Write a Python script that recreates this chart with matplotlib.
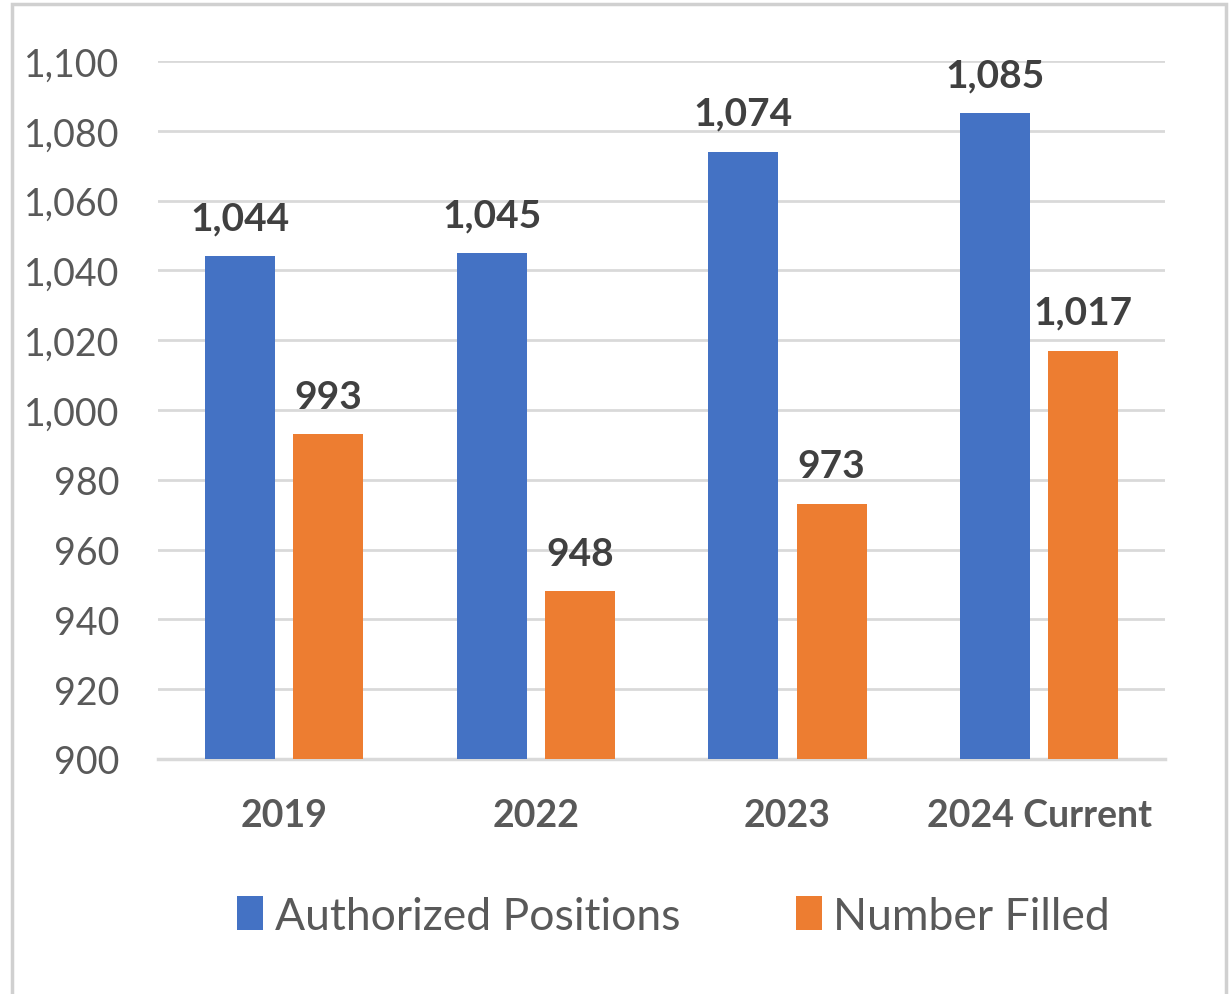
"""Authorized positions vs number filled, grouped bars."""
import numpy as np
import matplotlib
matplotlib.use("Agg")
import matplotlib.pyplot as plt
from matplotlib.patches import Rectangle
from matplotlib.ticker import FuncFormatter, MultipleLocator

categories = ["2019", "2022", "2023", "2024 Current"]
authorized = [1044, 1045, 1074, 1085]
filled = [993, 948, 973, 1017]
series_names = ["Authorized Positions", "Number Filled"]

BLUE = "#4472C4"
ORANGE = "#ED7D31"
GRID = "#D9D9D9"
TICK_GRAY = "#595959"

plt.rcParams["font.family"] = ["Lato", "DejaVu Sans"]

fig = plt.figure(figsize=(12.29, 9.95), dpi=100)
ax = fig.add_axes([0.1286, 0.2362, 0.8194, 0.7015])

x = np.arange(len(categories))
width = 0.278
offset = 0.175

bars_a = ax.bar(x - offset, np.array(authorized) - 900, width, bottom=900,
                color=BLUE, label=series_names[0], zorder=3)
bars_f = ax.bar(x + offset, np.array(filled) - 900, width, bottom=900,
                color=ORANGE, label=series_names[1], zorder=3)

# data labels
for bars, vals in ((bars_a, authorized), (bars_f, filled)):
    for b, v in zip(bars, vals):
        ax.annotate("{:,}".format(v), (b.get_x() + b.get_width() / 2, v),
                    xytext=(0, 15), textcoords="offset points",
                    ha="center", va="bottom", fontsize=28,
                    fontweight="bold", color="#404040")

ax.set_xlim(-0.5, len(categories) - 0.5)
ax.set_ylim(900, 1100)
ax.yaxis.set_major_locator(MultipleLocator(20))
ax.yaxis.set_major_formatter(FuncFormatter(lambda v, p: "{:,.0f}".format(v)))
ax.grid(axis="y", color=GRID, linewidth=2, zorder=0)
ax.set_axisbelow(True)

ax.set_xticks(x)
ax.set_xticklabels(categories, fontsize=27, fontweight="bold",
                   color=TICK_GRAY)
ax.tick_params(axis="x", length=0, pad=28)
ax.tick_params(axis="y", length=0, pad=28, labelsize=27,
               labelcolor=TICK_GRAY)

for side in ("top", "right", "left"):
    ax.spines[side].set_visible(False)
ax.spines["bottom"].set_color(GRID)
ax.spines["bottom"].set_linewidth(2.5)

leg = fig.legend(loc="center", bbox_to_anchor=(0.548, 0.078), ncol=2,
                 frameon=False, fontsize=32, handlelength=0.6,
                 handleheight=0.8, handletextpad=0.25, columnspacing=2.6,
                 labelcolor=TICK_GRAY)

# outer chart border
fig.patches.append(Rectangle((0.0098, -0.01), 0.988, 1.005,
                             transform=fig.transFigure, fill=False,
                             edgecolor="#D0D0D0", linewidth=2.5))

fig.savefig("out.png", dpi=100, facecolor="white")
plt.close(fig)
